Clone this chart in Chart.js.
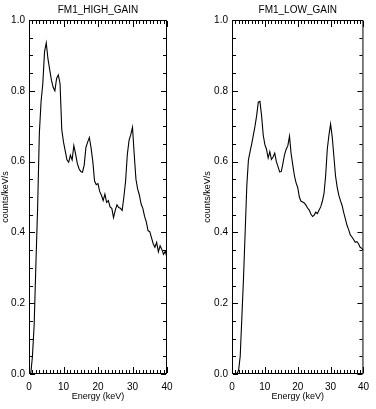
<!DOCTYPE html>
<html lang="en">
  <head>
    <meta charset="UTF-8" />
    <script src="https://cdn.jsdelivr.net/npm/chart.js@4.4.0/dist/chart.umd.min.js"></script>
    <title>FM1 spectra</title>
    <style>
      body {
        margin: 0;
        padding: 0;
        background: white;
      }
      .panel {
        position: absolute;
        top: 0;
        width: 188px;
        height: 409px;
      }
    </style>
  </head>
  <body>
    <div class="panel" style="left: 0px"><canvas id="chartHigh"></canvas></div>
    <div class="panel" style="left: 188px"><canvas id="chartLow"></canvas></div>
    <script>
      // energy bins (keV)
      const energy = [
        0, 0.5, 1, 1.5, 2, 2.5, 3, 3.5, 4, 4.5, 5, 5.5, 6, 6.5, 7, 7.5, 8, 8.5, 9, 9.5,
        10, 10.5, 11, 11.5, 12, 12.5, 13, 13.5, 14, 14.5, 15, 15.5, 16, 16.5, 17, 17.5, 18, 18.5, 19, 19.5,
        20, 20.5, 21, 21.5, 22, 22.5, 23, 23.5, 24, 24.5, 25, 25.5, 26, 26.5, 27, 27.5, 28, 28.5, 29, 29.5,
        30, 30.5, 31, 31.5, 32, 32.5, 33, 33.5, 34, 34.5, 35, 35.5, 36, 36.5, 37, 37.5, 38, 38.5, 39, 39.5, 40,
      ]
      const highGain = [
        0, 0, 0.05, 0.14, 0.31, 0.47, 0.68, 0.77, 0.82, 0.91, 0.935, 0.89, 0.86, 0.83, 0.81, 0.8, 0.835, 0.845, 0.82, 0.69,
        0.655, 0.63, 0.605, 0.598, 0.618, 0.605, 0.645, 0.622, 0.595, 0.58, 0.572, 0.57, 0.59, 0.64, 0.655, 0.668, 0.638, 0.6, 0.545, 0.535,
        0.538, 0.515, 0.505, 0.49, 0.508, 0.485, 0.49, 0.472, 0.468, 0.442, 0.462, 0.478, 0.47, 0.468, 0.462, 0.5, 0.545, 0.62, 0.66, 0.676,
        0.697, 0.62, 0.55, 0.522, 0.505, 0.48, 0.468, 0.445, 0.43, 0.405, 0.402, 0.385, 0.368, 0.358, 0.372, 0.345, 0.362, 0.352, 0.338, 0.347, 0.328,
      ]
      const lowGain = [
        0, 0, 0, 0.002, 0.01, 0.05, 0.16, 0.27, 0.4, 0.53, 0.605, 0.628, 0.65, 0.675, 0.7, 0.73, 0.768, 0.77, 0.73, 0.675,
        0.648, 0.635, 0.61, 0.628, 0.606, 0.613, 0.624, 0.6, 0.586, 0.571, 0.572, 0.595, 0.62, 0.635, 0.645, 0.672, 0.622, 0.59, 0.56, 0.54,
        0.527, 0.5, 0.488, 0.486, 0.483, 0.477, 0.469, 0.463, 0.452, 0.445, 0.449, 0.457, 0.453, 0.463, 0.472, 0.488, 0.51, 0.56, 0.635, 0.675,
        0.706, 0.67, 0.615, 0.56, 0.528, 0.505, 0.49, 0.476, 0.456, 0.438, 0.42, 0.408, 0.393, 0.387, 0.38, 0.372, 0.374, 0.368, 0.358, 0.355, 0.35,
      ]
      const xTicks = [0, 10, 20, 30, 40]
      const yTicks = [0.0, 0.2, 0.4, 0.6, 0.8, 1.0]

      const fontFamily = "'Liberation Sans', Arial, sans-serif"

      // IDL style frame: box plus inward ticks on all four sides
      const idlFrame = {
        id: 'idlFrame',
        afterDraw(chart) {
          const ctx = chart.ctx
          const a = chart.chartArea
          const xs = chart.scales.x
          const ys = chart.scales.y
          ctx.save()
          ctx.strokeStyle = '#000'
          ctx.lineWidth = 1
          ctx.strokeRect(a.left + 0.5, a.top + 0.5, a.right - a.left - 1, a.bottom - a.top - 1)
          for (let i = 0; i <= 40; i++) {
            const len = i % 10 === 0 ? 6 : 3
            const px = Math.round(xs.getPixelForValue(i)) + 0.5
            ctx.beginPath()
            ctx.moveTo(px, a.bottom - 1)
            ctx.lineTo(px, a.bottom - 1 - len)
            ctx.moveTo(px, a.top + 1)
            ctx.lineTo(px, a.top + 1 + len)
            ctx.stroke()
          }
          for (let i = 0; i <= 20; i++) {
            const len = i % 4 === 0 ? 5 : 3
            const py = Math.round(ys.getPixelForValue(i * 0.05)) + 0.5
            ctx.beginPath()
            ctx.moveTo(a.left + 1, py)
            ctx.lineTo(a.left + 1 + len, py)
            ctx.moveTo(a.right - 1, py)
            ctx.lineTo(a.right - 1 - len, py)
            ctx.stroke()
          }
          ctx.restore()
        },
      }

      function makePanel(id, title, values, padLeft, yWidth, padRight) {
        return new Chart(document.getElementById(id), {
          type: 'line',
          data: {
            datasets: [
              {
                data: energy.map((e, i) => ({ x: e, y: values[i] })),
                borderColor: '#000',
                borderWidth: 1.1,
                pointRadius: 0,
                tension: 0,
              },
            ],
          },
          options: {
            animation: false,
            responsive: true,
            maintainAspectRatio: false,
            layout: { padding: { left: padLeft, right: padRight, top: 0, bottom: 0 } },
            plugins: {
              legend: { display: false },
              tooltip: { enabled: false },
              title: {
                display: true,
                text: title,
                fullSize: false,
                color: '#000',
                font: { family: fontFamily, size: 10, weight: 'normal', lineHeight: 1.2 },
                padding: { top: 4, bottom: 4 },
              },
            },
            scales: {
              x: {
                type: 'linear',
                min: 0,
                max: 40,
                afterFit: (scale) => {
                  scale.height = 35
                },
                afterBuildTicks: (scale) => {
                  scale.ticks = xTicks.map((v) => ({ value: v }))
                },
                grid: { display: false, drawTicks: false },
                border: { display: false },
                ticks: {
                  color: '#000',
                  padding: 7,
                  maxRotation: 0,
                  font: { family: fontFamily, size: 10 },
                },
                title: {
                  display: true,
                  text: 'Energy (keV)',
                  color: '#000',
                  font: { family: fontFamily, size: 9 },
                  padding: { top: 0, bottom: 7 },
                },
              },
              y: {
                min: 0,
                max: 1,
                afterFit: (scale) => {
                  scale.width = yWidth
                },
                afterBuildTicks: (scale) => {
                  scale.ticks = yTicks.map((v) => ({ value: v }))
                },
                grid: { display: false, drawTicks: false },
                border: { display: false },
                ticks: {
                  color: '#000',
                  padding: 4,
                  font: { family: fontFamily, size: 10 },
                  callback: (v) => Number(v).toFixed(1),
                },
                title: {
                  display: true,
                  text: 'counts/keV/s',
                  color: '#000',
                  font: { family: fontFamily, size: 9 },
                  padding: { top: 0, bottom: 0 },
                },
              },
            },
          },
          plugins: [idlFrame],
        })
      }

      makePanel('chartHigh', 'FM1_HIGH_GAIN', highGain, 0, 29, 21)
      makePanel('chartLow', 'FM1_LOW_GAIN', lowGain, 14, 30, 7)
    </script>
  </body>
</html>
